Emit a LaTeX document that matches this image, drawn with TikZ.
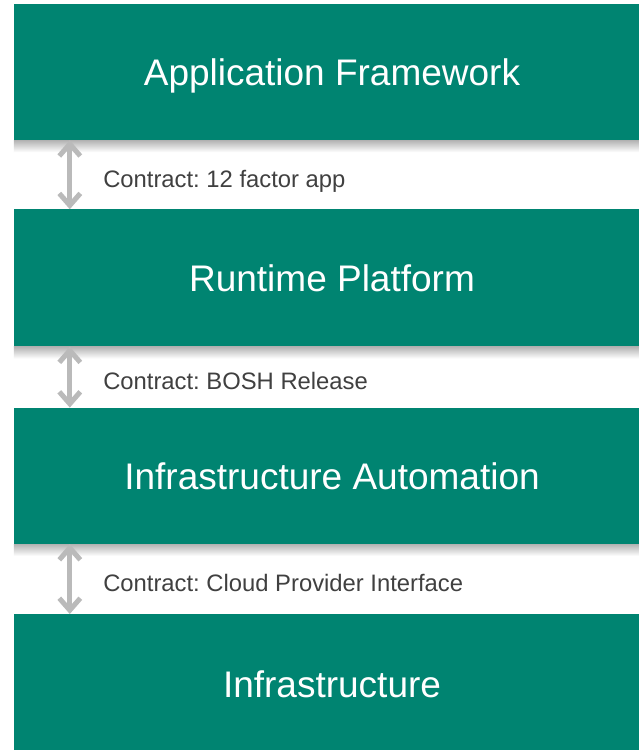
\documentclass[tikz,border=0pt]{standalone}
\usepackage{fontspec}
\setmainfont{Liberation Sans}
\usetikzlibrary{positioning,arrows.meta}
\frenchspacing

\definecolor{layergreen}{RGB}{0,132,113}
\definecolor{contractgray}{RGB}{186,186,186}
\definecolor{labelgray}{RGB}{64,64,64}

\tikzset{
  layer/.style={fill=layergreen, text=white, inner sep=0pt,
    minimum width=636pt, minimum height=136pt,
    font=\fontsize{37}{44}\selectfont, text height=26.5pt, text depth=0pt},
  contract/.style={draw=contractgray, line width=5pt,
    {Straight Barb[length=12pt,width=21pt,line width=5pt]}-{Straight Barb[length=12pt,width=21pt,line width=5pt]}},
  contract text/.style={anchor=west, xshift=31pt, yshift=-4pt, text=labelgray,
    inner sep=0pt, font=\fontsize{23.8}{28}\selectfont, text height=17pt, text depth=0pt}
}

\begin{document}
\begin{tikzpicture}[x=1pt,y=-1pt]
          \useasboundingbox[fill=white] (0,0) rectangle (638,750);

          \node[layer] (b1) at (332,72) {Application Framework};
          \node[layer, below = 69pt of b1, minimum height=137pt] (b2) {Runtime Platform};
          \node[layer, below = 61pt of b2] (b3) {Infrastructure Automation};
          \node[layer, below = 70pt of b3, minimum height=140pt] (b4) {Infrastructure};

          % soft shadow under the boxes
          \foreach \b in {b1,b2,b3}
            \shade[top color=black!30, bottom color=white]
              (\b.south west) rectangle ([yshift=-12pt]\b.south east);

          \coordinate (t1) at ([xshift=56pt]b1.south west);
          \coordinate (h1) at ([xshift=56pt]b2.north west);
          \coordinate (t2) at ([xshift=56pt]b2.south west);
          \coordinate (h2) at ([xshift=56pt]b3.north west);
          \coordinate (t3) at ([xshift=56pt]b3.south west);
          \coordinate (h3) at ([xshift=56pt]b4.north west);

          \draw [contract] (t1) -- node[contract text] (c1) {Contract: 12 factor app} (h1);
          \draw [contract] (t2) -- node[contract text] (c2) {Contract: BOSH Release} (h2);
          \draw [contract] (t3) -- node[contract text] (c3) {Contract: Cloud Provider Interface} (h3);
        \end{tikzpicture}
\end{document}
